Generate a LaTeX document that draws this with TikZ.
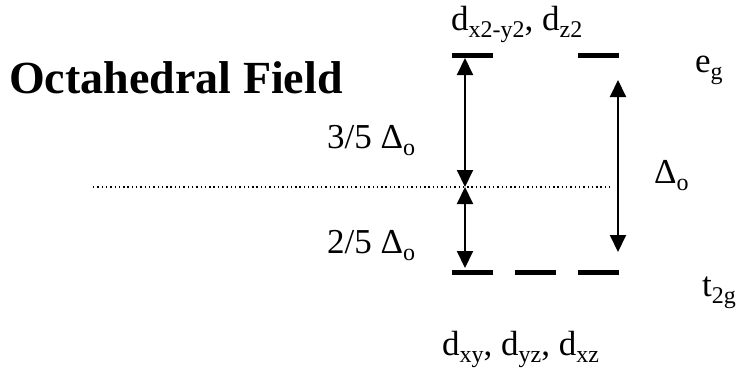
\documentclass[tikz,border=0pt]{standalone}
\usepackage{fontspec}
\setmainfont{Liberation Serif}
\usetikzlibrary{arrows.meta}
\newcommand{\lsub}[1]{\raisebox{-0.2em}{\fontsize{24}{24}\selectfont #1}}
\begin{document}
\begin{tikzpicture}[x=1pt,y=-1pt,
  lbl/.style={anchor=base west,inner sep=0pt,font=\fontsize{35}{35}\selectfont},
  bar/.style={fill=black,inner sep=0pt,minimum width=41pt,minimum height=5pt},
  arr/.style={line width=2pt,{Triangle[width=16pt,length=17pt]}-{Triangle[width=16pt,length=17pt]}},
  dotline/.style={line width=1.3pt,dash pattern=on 1.4pt off 2.9pt}]
\useasboundingbox (0,0) rectangle (737,373);
% title
\node[anchor=base west,inner sep=0pt,font=\fontsize{46}{46}\selectfont\bfseries] (title) at (9,93) {Octahedral Field};
% levels
\node[bar] (eg1) at (472.5,55) {};
\node[bar] (eg2) at (598,55) {};
\node[bar] (t1) at (472.5,272) {};
\node[bar] (t2) at (535,272) {};
\node[bar] (t3) at (598,272) {};
% dotted barycentre line
\coordinate (dl) at (93,187);
\coordinate (dr) at (610,187);
\draw[dotline] (dl) -- (dr);
% arrows
\coordinate (la) at (465,58);
\coordinate (lm) at (465,187);
\coordinate (lb) at (465,268);
\coordinate (ra) at (618,80);
\coordinate (rb) at (618,252);
\draw[arr] (la) -- (lm);
\draw[arr] (lm) -- (lb);
\draw[arr] (ra) -- (rb);
% labels
\node[lbl] (egorb) at (451,30) {d\lsub{x2-y2}, d\lsub{z2}};
\node[lbl] (eglab) at (695,72) {e\lsub{g}};
\node[lbl] (t2glab) at (702,296) {t\lsub{2g}};
\node[lbl] (tgorb) at (442,355) {d\lsub{xy}, d\lsub{yz}, d\lsub{xz}};
\node[lbl] (three) at (327,148) {3/5 Δ\lsub{o}};
\node[lbl] (two) at (327,253) {2/5 Δ\lsub{o}};
\node[lbl] (delta) at (654,183) {Δ\lsub{o}};
\end{tikzpicture}
\end{document}
